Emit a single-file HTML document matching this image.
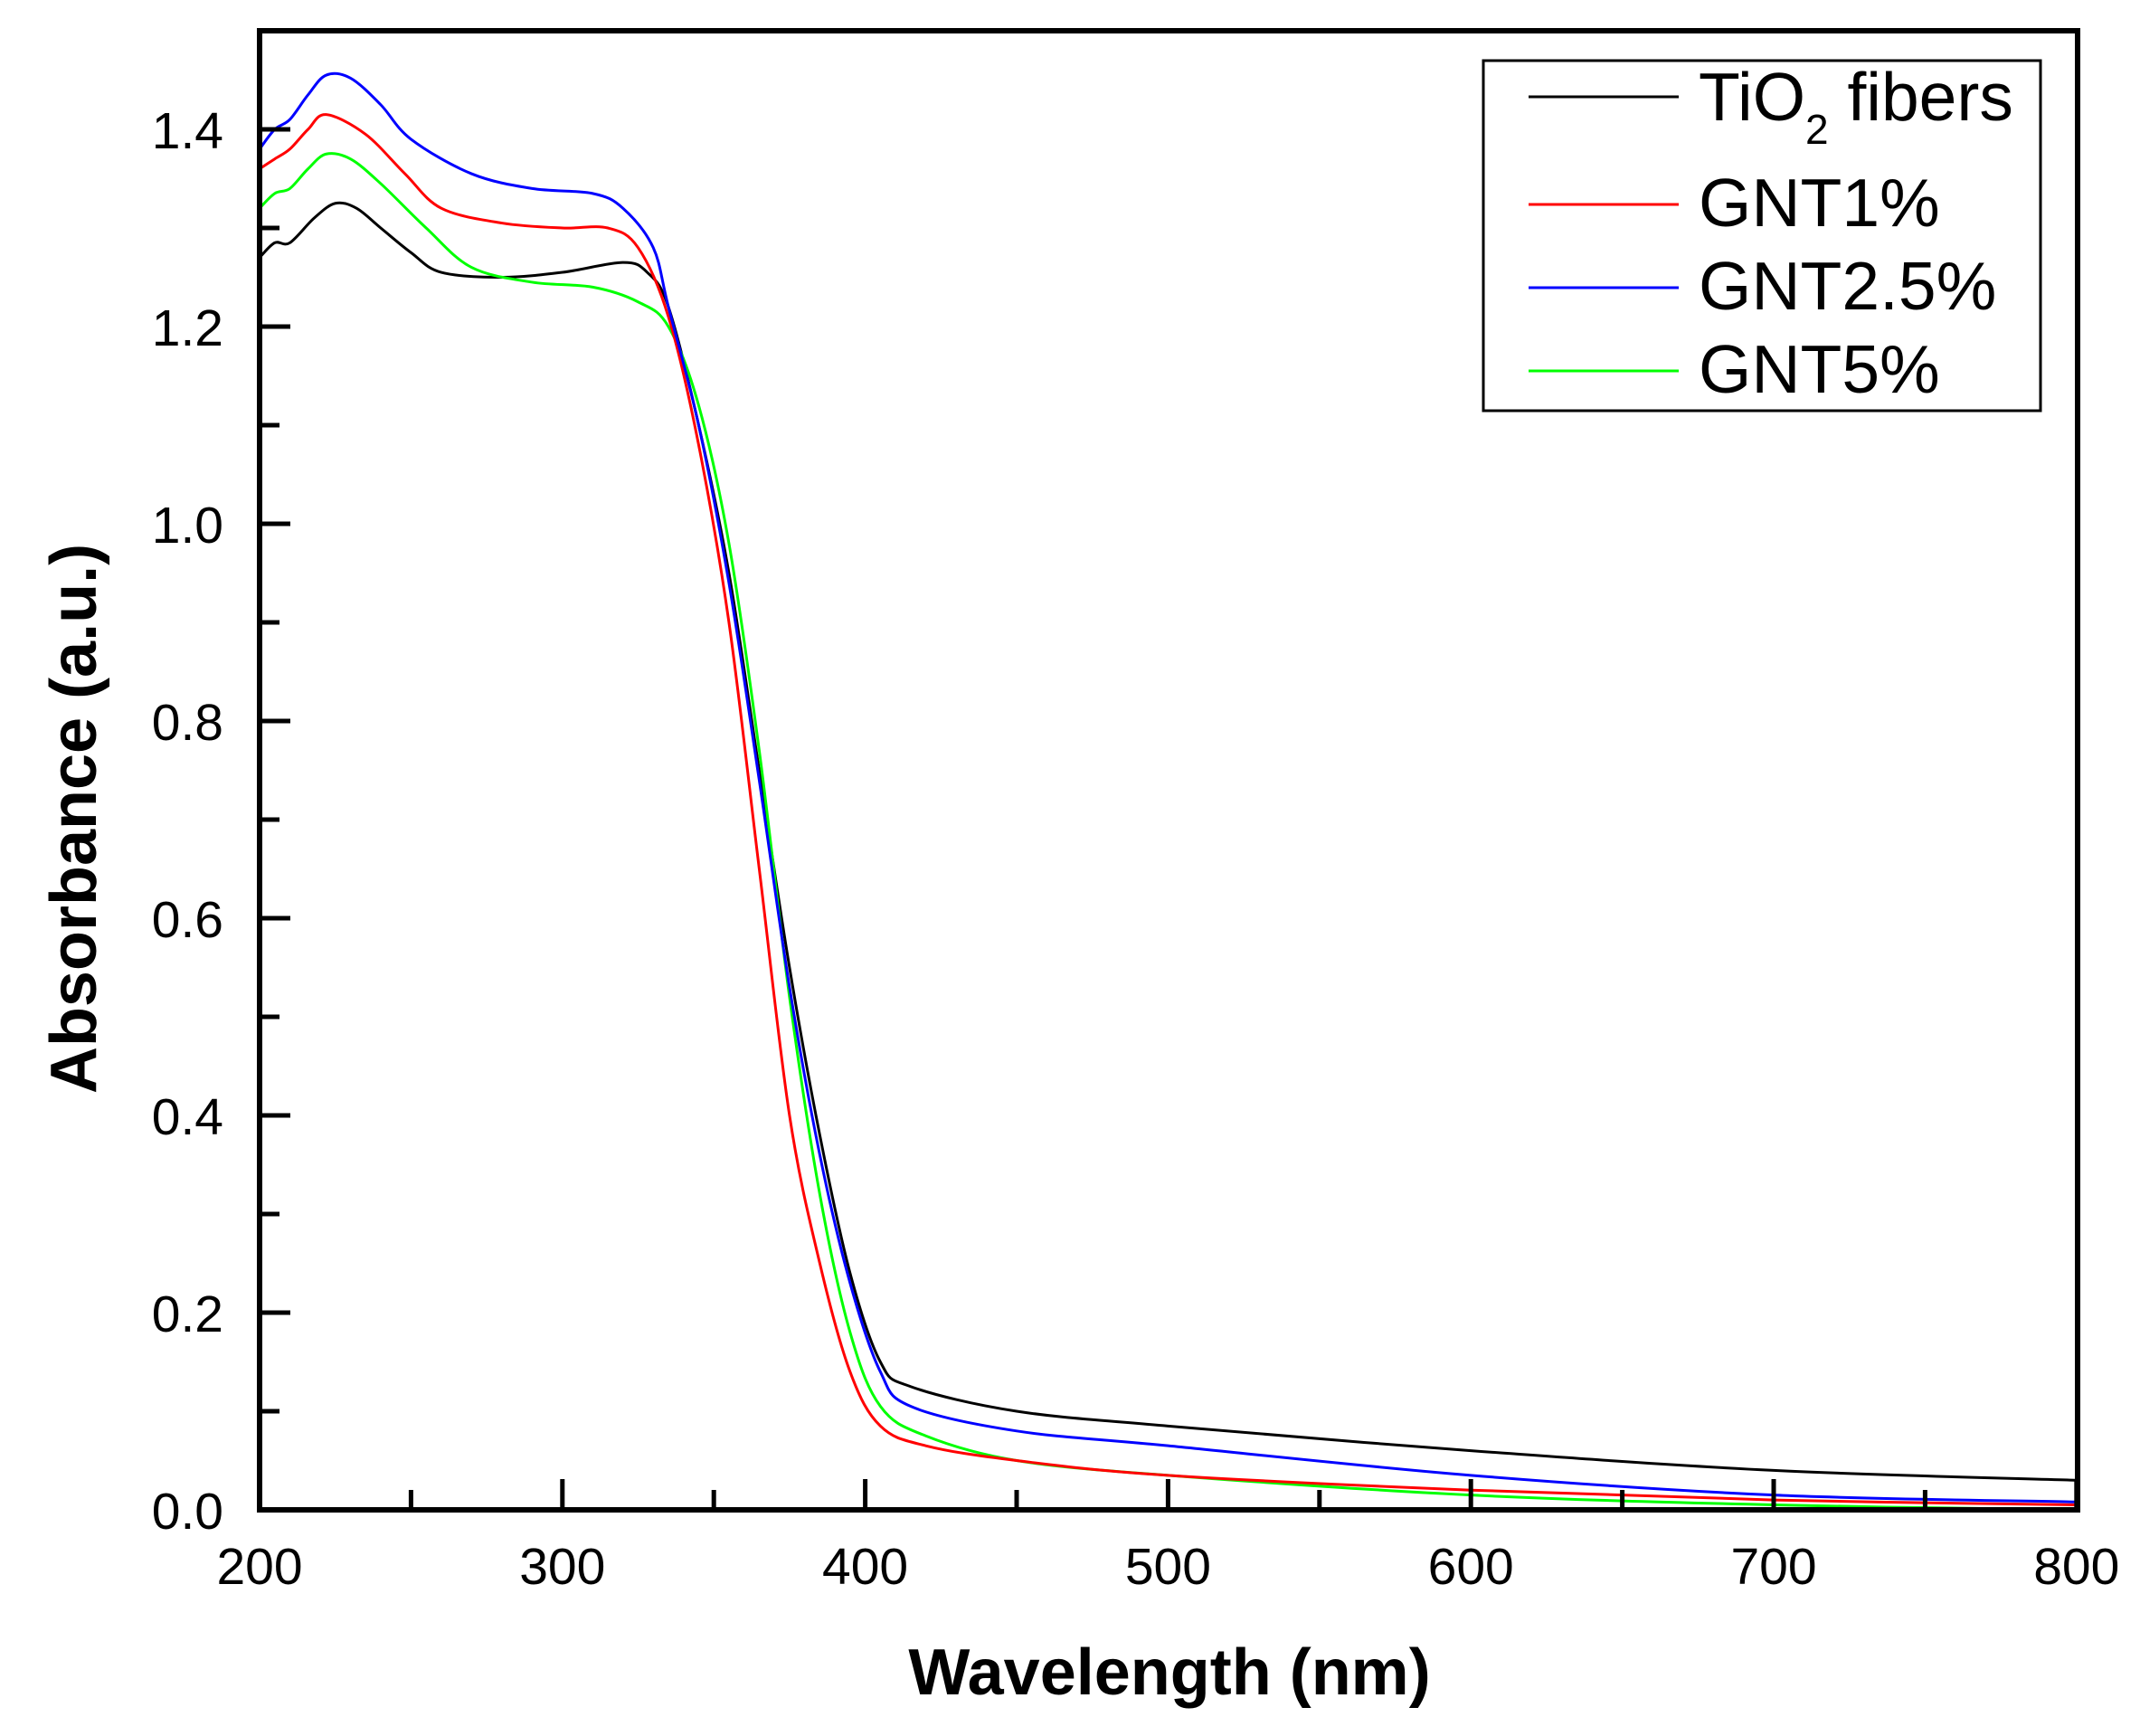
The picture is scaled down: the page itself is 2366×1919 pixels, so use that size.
<!DOCTYPE html>
<html><head><meta charset="utf-8"><style>
html,body{margin:0;padding:0;background:#fff;}
svg{display:block;font-family:"Liberation Sans",Arial,sans-serif;}
</style></head><body>
<svg id="s" width="2366" height="1919" viewBox="0 0 2366 1919" xmlns="http://www.w3.org/2000/svg">
<rect width="2366" height="1919" fill="#fff"/>
<g id="curves" fill="none" stroke-width="3" stroke-linejoin="round"></g>
<rect x="287" y="34" width="2010" height="1635" fill="none" stroke="#000" stroke-width="6"/>
<g id="ticks" stroke="#000" stroke-width="5"></g>
<g font-size="57" fill="#000" id="labels"></g>
<text x="1293" y="1873" font-size="72" font-weight="bold" text-anchor="middle">Wavelength (nm)</text>
<text transform="translate(106,905) rotate(-90)" font-size="72" font-weight="bold" text-anchor="middle">Absorbance (a.u.)</text>
<rect x="1640" y="67" width="616" height="387" fill="#fff" stroke="#000" stroke-width="3"/>
<line x1="1690" y1="107" x2="1856" y2="107" stroke="#000" stroke-width="3"/>
<line x1="1690" y1="226" x2="1856" y2="226" stroke="#f00" stroke-width="3"/>
<line x1="1690" y1="318" x2="1856" y2="318" stroke="#00f" stroke-width="3"/>
<line x1="1690" y1="410" x2="1856" y2="410" stroke="#0f0" stroke-width="3"/>
<g font-size="75" fill="#000">
<text x="1878" y="133">TiO<tspan font-size="46" dy="26">2</tspan><tspan dy="-26"> fibers</tspan></text>
<text x="1878" y="250">GNT1%</text>
<text x="1878" y="342">GNT2.5%</text>
<text x="1878" y="434">GNT5%</text>
</g>
</svg>
<script>
var NS="http://www.w3.org/2000/svg";
function X(w){return 287+(w-200)*3.348;}
function Y(a){return 1669-a*1090;}
var data={
"#000":[[200,1.27],[205,1.285],[210,1.285],[218,1.31],[225,1.325],[232,1.32],[240,1.30],[250,1.275],[260,1.255],[280,1.25],[300,1.255],[320,1.265],[328,1.255],[335,1.22],[345,1.10],[355,0.95],[365,0.75],[375,0.55],[385,0.38],[395,0.24],[405,0.15],[415,0.125],[450,0.10],[500,0.085],[600,0.06],[700,0.04],[800,0.03]],
"#f00":[[200,1.36],[205,1.37],[210,1.38],[216,1.40],[222,1.415],[235,1.395],[248,1.355],[260,1.32],[280,1.305],[300,1.30],[315,1.30],[325,1.28],[335,1.21],[345,1.08],[355,0.90],[365,0.65],[375,0.40],[385,0.25],[395,0.14],[405,0.085],[420,0.065],[450,0.05],[500,0.035],[600,0.02],[700,0.01],[800,0.005]],
"#00f":[[200,1.38],[205,1.40],[210,1.41],[216,1.435],[222,1.455],[230,1.452],[240,1.425],[250,1.39],[270,1.355],[290,1.34],[310,1.335],[320,1.32],[330,1.28],[335,1.22],[345,1.10],[355,0.94],[365,0.74],[375,0.53],[385,0.36],[395,0.23],[405,0.14],[415,0.105],[450,0.08],[500,0.065],[600,0.035],[700,0.015],[800,0.008]],
"#0f0":[[200,1.32],[205,1.335],[210,1.34],[216,1.36],[222,1.375],[230,1.37],[240,1.345],[255,1.30],[270,1.26],[290,1.245],[310,1.24],[325,1.225],[335,1.20],[345,1.12],[355,0.98],[365,0.77],[375,0.52],[385,0.32],[395,0.18],[405,0.105],[420,0.075],[450,0.05],[500,0.035],[600,0.015],[700,0.005],[800,0.0]]
};
var g=document.getElementById("curves");
["#000","#0f0","#f00","#00f"].forEach(function(c){
 var p=data[c].map(function(d){return [X(d[0]),Y(d[1])];});
 var s="M"+p[0][0]+","+p[0][1];
 for(var i=0;i<p.length-1;i++){
  var p0=p[Math.max(0,i-1)],p1=p[i],p2=p[i+1],p3=p[Math.min(p.length-1,i+2)];
  var c1x=p1[0]+(p2[0]-p0[0])/6,c1y=p1[1]+(p2[1]-p0[1])/6;
  var c2x=p2[0]-(p3[0]-p1[0])/6,c2y=p2[1]-(p3[1]-p1[1])/6;
  s+=" C"+c1x+","+c1y+" "+c2x+","+c2y+" "+p2[0]+","+p2[1];
 }
 var e=document.createElementNS(NS,"path");e.setAttribute("d",s);e.setAttribute("stroke",c);g.appendChild(e);
});
var t=document.getElementById("ticks"),L=document.getElementById("labels");
function line(x1,y1,x2,y2){var e=document.createElementNS(NS,"line");e.setAttribute("x1",x1);e.setAttribute("y1",y1);e.setAttribute("x2",x2);e.setAttribute("y2",y2);t.appendChild(e);}
function txt(x,y,s,a){var e=document.createElementNS(NS,"text");e.setAttribute("x",x);e.setAttribute("y",y);e.setAttribute("text-anchor",a);e.textContent=s;L.appendChild(e);}
for(var w=200;w<=800;w+=50){var maj=(w%100===0);line(X(w),1669,X(w),1669-(maj?34:22));if(maj)txt(X(w),1751,String(w),"middle");}
for(var k=0;k<=14;k++){var a=k*0.1;var maj=(k%2===0);line(287,Y(a),287+(maj?34:22),Y(a));if(maj)txt(247,Y(a)+21,a.toFixed(1),"end");}
</script>
</body></html>
